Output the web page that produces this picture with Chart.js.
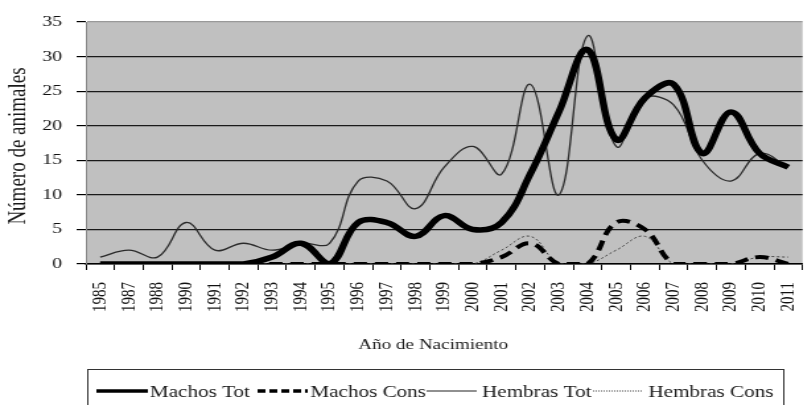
<!DOCTYPE html>
<html>
<head>
<meta charset="utf-8">
<script src="https://cdn.jsdelivr.net/npm/chart.js@4.4.1/dist/chart.umd.min.js"></script>
<style>
  html, body { margin: 0; padding: 0; background: #fff; }
  #wrap { position: relative; width: 812px; height: 405px; overflow: hidden; }
</style>
</head>
<body>
<div id="wrap">
  <!-- el gráfico original está estirado en horizontal, así que se estira el lienzo -->
  <canvas id="chart" width="627" height="405" style="display:block; width:828px; height:405px;"></canvas>
</div>
<script>
const years = ['1985', '1987', '1988', '1990', '1991', '1992', '1993', '1994', '1995', '1996', '1997', '1998', '1999',
  '2000', '2001', '2002', '2003', '2004', '2005', '2006', '2007', '2008', '2009', '2010', '2011'];
const machosTot   = [0, 0, 0, 0, 0, 0, 1, 3, 0, 6, 6, 4, 7, 5, 6, 13, 22, 31, 18, 24, 26, 16, 22, 16, 14];
const machosCons  = [0, 0, 0, 0, 0, 0, 0, 0, 0, 0, 0, 0, 0, 0, 1, 3, 0, 0, 6, 5, 0, 0, 0, 1, 0];
const hembrasTot  = [1, 2, 1, 6, 2, 3, 2, 3, 3, 12, 12, 8, 14, 17, 13, 26, 10, 33, 17, 24, 23, 15, 12, 16, 14];
const hembrasCons = [0, 0, 0, 0, 0, 0, 0, 0, 0, 0, 0, 0, 0, 0, 2, 4, 0, 0, 2, 4, 0, 0, 0, 1, 1];

const yTitle = 'Número de animales';
const xTitle = 'Año de Nacimiento';
const serif = '"Liberation Serif", "Times New Roman", serif';

// muestras de la leyenda (coordenadas del lienzo sin estirar)
const legendItems = [
  { text: 'Machos Tot',   x0: 73,  x1: 112, width: 3.5, dash: [],     color: '#000' },
  { text: 'Machos Cons',  x0: 195, x1: 233, width: 3.5, dash: [6, 3], color: '#000' },
  { text: 'Hembras Tot',  x0: 323, x1: 361, width: 1.2, dash: [],     color: '#222' },
  { text: 'Hembras Cons', x0: 449, x1: 487, width: 1,   dash: [1, 1], color: '#444' },
];
const legendTextX = [113.5, 235, 365, 491];

const decor = {
  id: 'decor',
  beforeDraw(chart) {
    const { ctx, chartArea: a } = chart;
    ctx.save();
    ctx.fillStyle = '#c0c0c0';
    ctx.fillRect(a.left, a.top, a.right - a.left, a.bottom - a.top);
    ctx.restore();
  },
  afterDraw(chart) {
    const ctx = chart.ctx;
    ctx.save();
    ctx.fillStyle = '#1a1a1a';
    ctx.textBaseline = 'middle';
    ctx.textAlign = 'center';

    ctx.font = '19px ' + serif;
    ctx.save();
    ctx.translate(14.5, 146);
    ctx.rotate(-Math.PI / 2);
    ctx.fillText(yTitle, 0, 0);
    ctx.restore();

    ctx.font = '14.5px ' + serif;
    ctx.fillText(xTitle, 328, 345);

    // caja de la leyenda
    ctx.strokeStyle = '#333';
    ctx.lineWidth = 1;
    ctx.strokeRect(66.5, 369.5, 527, 60);

    ctx.font = '16px ' + serif;
    ctx.textAlign = 'left';
    ctx.textBaseline = 'alphabetic';
    legendItems.forEach((it, i) => {
      ctx.beginPath();
      ctx.setLineDash(it.dash);
      ctx.strokeStyle = it.color;
      ctx.lineWidth = it.width;
      ctx.moveTo(it.x0, 391);
      ctx.lineTo(it.x1, 391);
      ctx.stroke();
      ctx.setLineDash([]);
      ctx.fillText(it.text, legendTextX[i], 397);
    });
    ctx.restore();
  },
};

new Chart(document.getElementById('chart'), {
  type: 'line',
  data: {
    labels: years,
    datasets: [
      {
        label: 'Machos Tot',
        data: machosTot,
        borderColor: '#000',
        borderWidth: 5.5,
        tension: 0.4,
        pointRadius: 0,
      },
      {
        label: 'Machos Cons',
        data: machosCons,
        borderColor: '#000',
        borderWidth: 4,
        borderDash: [10, 6],
        tension: 0.4,
        pointRadius: 0,
      },
      {
        label: 'Hembras Tot',
        data: hembrasTot,
        borderColor: '#2a2a2a',
        borderWidth: 1.3,
        tension: 0.4,
        pointRadius: 0,
      },
      {
        label: 'Hembras Cons',
        data: hembrasCons,
        borderColor: '#444',
        borderWidth: 1,
        borderDash: [2, 2],
        tension: 0.4,
        pointRadius: 0,
      },
    ],
  },
  options: {
    responsive: false,
    animation: false,
    devicePixelRatio: 1,
    layout: { padding: { top: 22, right: 5, bottom: 0, left: 0 } },
    plugins: { legend: { display: false }, tooltip: { enabled: false } },
    scales: {
      x: {
        offset: true,
        afterFit: (s) => { s.height = 141; },
        grid: { offset: true, drawOnChartArea: false, drawTicks: true, tickLength: 6, color: '#000' },
        border: { color: '#000', width: 1.5 },
        ticks: {
          autoSkip: false,
          minRotation: 90,
          maxRotation: 90,
          padding: 12,
          color: '#111',
          font: { family: serif, size: 15 },
        },
      },
      y: {
        min: 0,
        max: 35,
        afterFit: (s) => { s.width = 65; },
        grid: {
          color: (c) => (c.tick && c.tick.value === 35 ? '#999' : '#1a1a1a'),
          lineWidth: 1.2,
          tickColor: '#000',
          tickLength: 7,
        },
        border: { color: '#888', width: 1 },
        ticks: {
          stepSize: 5,
          padding: 11,
          color: '#111',
          font: { family: serif, size: 15 },
        },
      },
    },
  },
  plugins: [decor],
});
</script>
</body>
</html>
